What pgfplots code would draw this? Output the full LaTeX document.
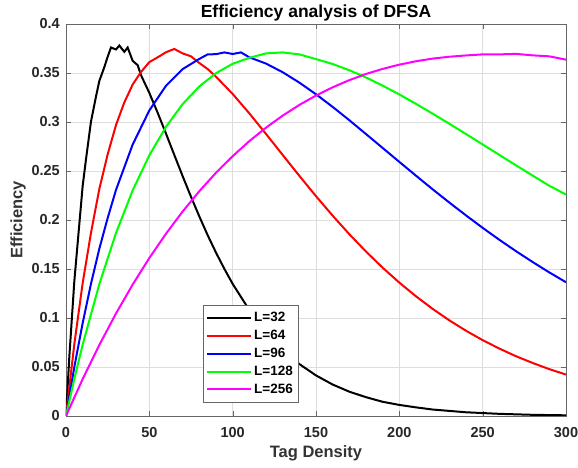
\documentclass[border=0pt]{standalone}
\usepackage{fontspec}
\setmainfont{Liberation Sans}
\usepackage{pgfplots}
\pgfplotsset{compat=1.18}
\definecolor{mgreen}{RGB}{0,255,0}
\definecolor{mmag}{RGB}{255,0,255}
\begin{document}
\begin{tikzpicture}[x=1pt,y=1pt]
\begin{axis}[
  at={(0,0)}, anchor=south west,
  scale only axis, width=500pt, height=392pt,
  xmin=0, xmax=300, ymin=0, ymax=0.4,
  xtick={0,50,...,300},
  ytick={0,0.05,...,0.4},
  yticklabels={0,0.05,0.1,0.15,0.2,0.25,0.3,0.35,0.4},
  grid=major,
  major grid style={color=black!13, line width=0.6pt},
  axis line style={color=black!60, line width=0.6pt},
  tick style={color=black!60},
  tick align=inside,
  major tick length=5pt,
  /pgf/number format/assume math mode=true,
  ticklabel style={font=\fontsize{14.5}{16}\selectfont\bfseries, color=black!85},
  xticklabel style={anchor=center, yshift=-17pt},
  yticklabel style={anchor=east, inner sep=0pt, xshift=-6pt},
  every axis title shift=0pt,
  title={\fontsize{17.5}{19}\selectfont\bfseries Efficiency analysis of DFSA},
  title style={at={(axis description cs:0.5,1.028)}, anchor=center, inner sep=0pt},
  xlabel={\fontsize{16.5}{18}\selectfont\bfseries Tag Density},
  ylabel={\fontsize{16.5}{18}\selectfont\bfseries Efficiency},
  xlabel style={at={(axis description cs:0.5,-0.0944)}, anchor=center, inner sep=0pt, color=black!80},
  ylabel style={at={(axis description cs:-0.096,0.5)}, anchor=center, inner sep=0pt, color=black!80},
  legend style={at={(0.274,0.283)}, anchor=north west, draw=black!60,
    font=\fontsize{13.5}{15}\selectfont\bfseries, row sep=3pt,
    inner xsep=3pt, inner ysep=5pt},
  legend cell align=left,
  legend image code/.code={\draw[#1, line width=2pt] (0pt,0pt) -- (44pt,0pt);},
]
\addplot[black, line width=2pt] coordinates {
(0,0) (2,0.0605) (5,0.1376) (8,0.196) (10,0.2348) (12,0.262) (15,0.3006) (18,0.326) (20,0.3419) (23,0.356) (25,0.3666) (27,0.376) (30,0.374) (32,0.378) (35,0.3716) (37,0.376) (40,0.3624) (43,0.358) (45,0.3478) (50,0.3297) (55,0.3094) (60,0.2881) (65,0.2663) (70,0.2447) (75,0.2237) (80,0.2036) (85,0.1845) (90,0.1667) (95,0.1502) (100,0.1348) (110,0.1081) (120,0.0858) (130,0.0677) (140,0.0530) (150,0.0414) (160,0.0321) (170,0.0248) (180,0.0192) (190,0.0145) (200,0.0113) (210,0.0088) (220,0.0066) (240,0.0038) (260,0.0022) (280,0.0012) (300,0.0007)
};
\addlegendentry{L=32}
\addplot[red, line width=2pt] coordinates {
(0,0) (5,0.0734) (10,0.1356) (15,0.187) (20,0.2317) (25,0.267) (30,0.2969) (35,0.320) (40,0.3382) (45,0.351) (50,0.3611) (55,0.366) (60,0.3712) (65,0.3745) (70,0.3700) (75,0.367) (80,0.3602) (85,0.354) (90,0.3462) (100,0.3286) (110,0.3088) (120,0.2878) (130,0.2664) (140,0.2451) (150,0.2243) (160,0.2044) (170,0.1855) (180,0.1678) (190,0.1513) (200,0.1361) (210,0.1221) (220,0.1093) (230,0.0976) (240,0.0870) (250,0.0774) (260,0.0688) (270,0.0610) (280,0.0541) (290,0.0478) (300,0.0423)
};
\addlegendentry{L=64}
\addplot[blue, line width=2pt] coordinates {
(0,0) (5,0.050) (10,0.0948) (15,0.135) (20,0.1707) (25,0.202) (30,0.2307) (40,0.2770) (50,0.3118) (60,0.3370) (70,0.3540) (80,0.3644) (85,0.369) (90,0.3692) (95,0.371) (100,0.3694) (105,0.371) (110,0.3660) (120,0.3596) (130,0.3508) (140,0.3402) (150,0.3283) (160,0.3154) (170,0.3018) (180,0.2877) (190,0.2735) (200,0.2593) (210,0.2452) (220,0.2313) (230,0.2178) (240,0.2047) (250,0.1920) (260,0.1798) (270,0.1682) (280,0.1571) (290,0.1465) (300,0.1365)
};
\addlegendentry{L=96}
\addplot[mgreen, line width=2pt] coordinates {
(0,0) (5,0.038) (10,0.0728) (20,0.1346) (30,0.1867) (40,0.2302) (50,0.2660) (60,0.2951) (70,0.3183) (80,0.3363) (90,0.3498) (100,0.3594) (110,0.3655) (120,0.3700) (130,0.3710) (140,0.3690) (150,0.3642) (160,0.3592) (170,0.3528) (180,0.3454) (190,0.3371) (200,0.3281) (210,0.3185) (220,0.3085) (230,0.2982) (240,0.2877) (250,0.2771) (260,0.2664) (270,0.2558) (280,0.2453) (290,0.2349) (300,0.2260)
};
\addlegendentry{L=128}
\addplot[mmag, line width=2pt] coordinates {
(0,0) (10,0.0377) (20,0.0725) (30,0.1046) (40,0.1341) (50,0.1612) (60,0.1860) (70,0.2087) (80,0.2294) (90,0.2482) (100,0.2651) (110,0.2805) (120,0.2942) (130,0.3065) (140,0.3174) (150,0.3270) (160,0.3354) (170,0.3427) (180,0.3490) (190,0.3542) (200,0.3585) (210,0.3620) (220,0.3647) (230,0.3666) (240,0.3679) (250,0.3690) (260,0.3690) (270,0.3695) (280,0.3680) (290,0.3670) (300,0.3636)
};
\addlegendentry{L=256}
\end{axis}
\pgfresetboundingbox
\path[use as bounding box] (-66,-52) rectangle (512,416);
\end{tikzpicture}
\end{document}
